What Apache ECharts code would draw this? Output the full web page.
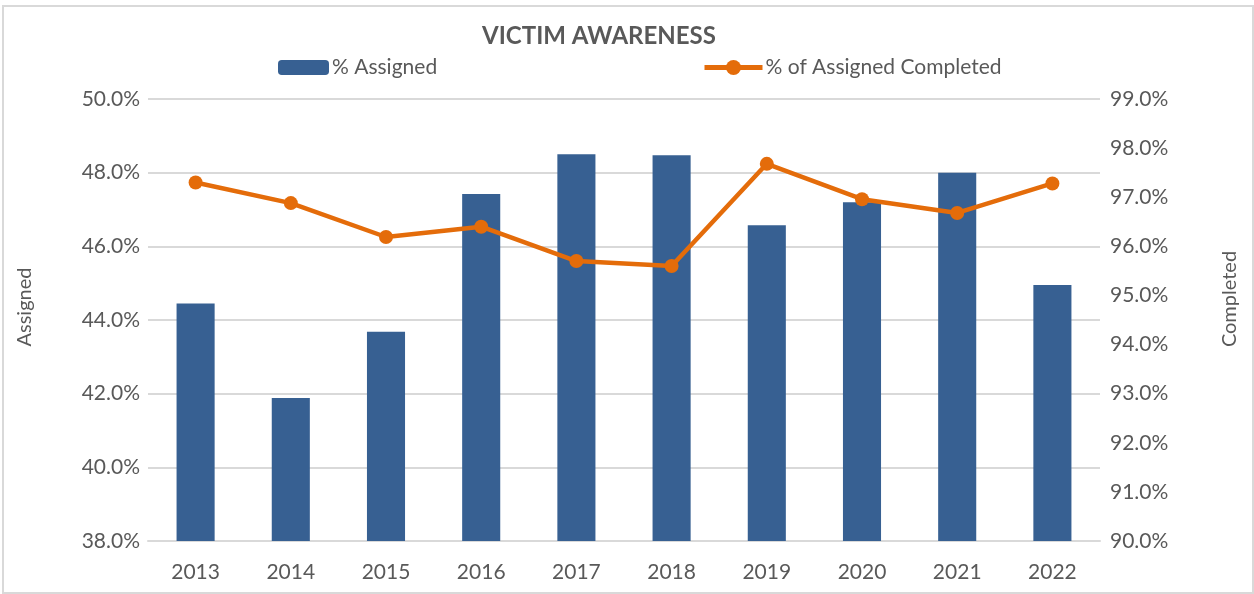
<!DOCTYPE html>
<html>
<head>
<meta charset="utf-8">
<script src="https://cdn.jsdelivr.net/npm/echarts@6/dist/echarts.min.js"></script>
<style>
  html, body { margin: 0; padding: 0; background: #fff; }
  #chart { position: absolute; left: 2px; top: 5px; width: 1252px; height: 589px;
           border: 2px solid #d9d9d9; box-sizing: border-box; }
</style>
</head>
<body>
<div id="chart"></div>
<script>
// data
var years = ['2013', '2014', '2015', '2016', '2017', '2018', '2019', '2020', '2021', '2022'];
var assigned = [44.45, 41.88, 43.68, 47.42, 48.50, 48.47, 46.57, 47.20, 48.00, 44.95];
var completed = [97.30, 96.88, 96.19, 96.40, 95.70, 95.60, 97.68, 96.96, 96.68, 97.28];

var chart = echarts.init(document.getElementById('chart'));
var textColor = '#595959';
var font = 'Lato, "Open Sans", sans-serif';

function pct(v) { return v.toFixed(1) + '%'; }

var option = {
    animation: false,
    textStyle: { fontFamily: font },
    title: {
        text: 'VICTIM AWARENESS',
        left: 590, top: 12,
        textAlign: 'center',
        textStyle: { fontSize: 24, fontWeight: 'bold', color: textColor, fontFamily: font }
    },
    legend: [
        {
            data: ['% Assigned'],
            left: 269, top: 45,
            itemWidth: 51, itemHeight: 15, itemGap: 4,
            textStyle: { fontSize: 21, color: textColor, padding: [0, 0, 0, -2] }
        },
        {
            data: ['% of Assigned Completed'],
            left: 693, top: 45,
            itemWidth: 58, itemHeight: 19,
            lineStyle: { width: 5 },
            textStyle: { fontSize: 21, color: textColor, padding: [0, 0, 0, -2] }
        }
    ],
    // axis titles, placed where the reference has them
    graphic: [
        {
            type: 'text', x: 21, y: 300, rotation: Math.PI / 2,
            style: { text: 'Assigned', fontSize: 20, fontFamily: font, fill: textColor,
                     textAlign: 'center', textVerticalAlign: 'middle' }
        },
        {
            type: 'text', x: 1226, y: 292, rotation: Math.PI / 2,
            style: { text: 'Completed', fontSize: 20, fontFamily: font, fill: textColor,
                     textAlign: 'center', textVerticalAlign: 'middle' }
        }
    ],
    grid: { left: 144, right: 152, top: 92, bottom: 51 },
    xAxis: {
        type: 'category',
        data: years,
        axisLine: { lineStyle: { color: '#d9d9d9', width: 2 } },
        axisTick: { show: false },
        axisLabel: { fontSize: 21, color: textColor, margin: 21 }
    },
    yAxis: [
        {
            type: 'value', min: 38, max: 50, interval: 2,
            axisLine: { show: false }, axisTick: { show: false },
            axisLabel: { fontSize: 21, color: textColor, margin: 8, formatter: pct },
            splitLine: { lineStyle: { color: '#d9d9d9', width: 2 } }
        },
        {
            type: 'value', min: 90, max: 99, interval: 1,
            axisLine: { show: false }, axisTick: { show: false },
            axisLabel: { fontSize: 21, color: textColor, margin: 10, formatter: pct },
            splitLine: { show: false }
        }
    ],
    series: [
        {
            name: '% Assigned',
            type: 'bar',
            data: assigned,
            barWidth: '40%',
            itemStyle: { color: '#376092' }
        },
        {
            name: '% of Assigned Completed',
            type: 'line',
            yAxisIndex: 1,
            data: completed,
            symbol: 'circle', symbolSize: 14,
            lineStyle: { color: '#e46c0a', width: 4.5 },
            itemStyle: { color: '#e46c0a' }
        }
    ]
};
chart.setOption(option);
</script>
</body>
</html>
